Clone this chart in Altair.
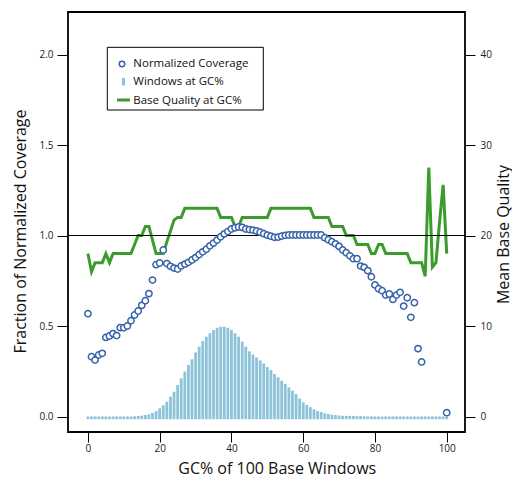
import altair as alt
import pandas as pd

# ---------------- data ----------------
gc = list(range(101))

coverage = [0.568, 0.33, 0.312, 0.34, 0.349, 0.437, 0.445, 0.458, 0.447, 0.491,
            0.49, 0.5, 0.529, 0.561, 0.583, 0.614, 0.64, 0.679, 0.754, 0.839,
            0.848, 0.92, 0.845, 0.83, 0.82, 0.815, 0.832, 0.842, 0.852, 0.865,
            0.878, 0.895, 0.91, 0.924, 0.943, 0.958, 0.975, 0.993, 1.009, 1.022,
            1.036, 1.043, 1.047, 1.045, 1.036, 1.033, 1.03, 1.025, 1.018, 1.01,
            1.002, 0.996, 0.99, 0.991, 0.997, 1.001, 1.003, 1.003, 1.003, 1.003,
            1.003, 1.003, 1.003, 1.003, 1.003, 1.003, 0.988, 0.977, 0.966, 0.954,
            0.94, 0.92, 0.905, 0.888, 0.872, 0.872, 0.831, 0.824, 0.806, 0.772,
            0.727, 0.706, 0.695, 0.671, 0.677, 0.647, 0.671, 0.686, 0.61, 0.656,
            0.548, 0.629, 0.375, 0.301, None, None, None, None, None, None,
            0.021]

windows = [0, 0, 0, 0, 0, 0, 0, 0, 0, 0,
           0, 0, 0, 0.001, 0.003, 0.005, 0.008, 0.012, 0.02, 0.03,
           0.045, 0.062, 0.082, 0.11, 0.137, 0.174, 0.211, 0.248, 0.285, 0.316,
           0.353, 0.386, 0.417, 0.441, 0.46, 0.478, 0.49, 0.496, 0.496, 0.49,
           0.478, 0.46, 0.441, 0.414, 0.386, 0.36, 0.342, 0.326, 0.31, 0.293,
           0.273, 0.257, 0.235, 0.217, 0.198, 0.18, 0.161, 0.143, 0.124, 0.1,
           0.078, 0.064, 0.051, 0.04, 0.03, 0.025, 0.018, 0.014, 0.01, 0.008,
           0.005, 0.004, 0.004, 0.003, 0.003, 0.002, 0.002, 0.001, 0.001, 0.001,
           0, 0, 0, 0, 0, 0, 0, 0, 0, 0,
           0, 0, 0, 0, 0, 0, 0, 0, 0, 0,
           0]

quality = [18, 16, 17, 17, 17, 18, 17, 18, 18, 18,
           18, 18, 18, 19, 20, 20, 21, 21, 19.5, 18,
           18, 18, 19.3, 20.5, 21.7, 22, 22, 23, 23, 23,
           23, 23, 23, 23, 23, 23, 23, 22, 22, 22,
           22, 21, 21, 22, 22, 22, 22, 22, 22, 22,
           22, 23, 23, 23, 23, 23, 23, 23, 23, 23,
           23, 23, 23, 22, 22, 22, 22, 22, 21, 21,
           21, 21, 20, 20, 20, 19, 19, 19, 19, 18,
           18, 19, 19, 18, 18, 18, 18, 18, 18, 18,
           17, 17, 17, 17, 15.5, 27.5, 16.5, 17, 21.5, 25.6,
           18]

x_ticks = [0, 20, 40, 60, 80, 100]
left_ticks = [0.0, 0.5, 1.0, 1.5, 2.0]
right_ticks = [0, 10, 20, 30, 40]
legend_labels = ["Normalized Coverage", "Windows at GC%", "Base Quality at GC%"]

# ---------------- styling ----------------
FONT = "Open Sans"
BLUE = "#3562AA"
BAR = "#8DC3D9"
GREEN = "#3C9B2D"

df = pd.DataFrame({"gc": gc, "coverage": coverage, "windows": windows, "quality": quality})
df_cov = df.dropna(subset=["coverage"])

xscale = alt.Scale(domain=[-4.16, 103.7], nice=False, zero=False)
lscale = alt.Scale(domain=[-0.0856, 2.235], nice=False, zero=False)
rscale = alt.Scale(domain=[-1.712, 44.7], nice=False, zero=False)

xaxis = alt.Axis(values=x_ticks, title="GC% of 100 Base Windows", tickSize=10,
                 labelPadding=1, titleX=208.7, titleY=41, titleBaseline="alphabetic",
                 titleAlign="center", labelFlush=False)
laxis = alt.Axis(values=left_ticks, format=".1f", orient="left",
                 title="Fraction of Normalized Coverage", tickSize=11, labelPadding=4,
                 titleAngle=270, titleX=-48, titleY=219, titleAlign="center",
                 titleBaseline="middle")
raxis = alt.Axis(values=right_ticks, format="d", orient="right",
                 title="Mean Base Quality", tickSize=10, labelPadding=5,
                 titleAngle=270, titleX=38, titleY=222, titleAlign="center",
                 titleBaseline="middle")

X = alt.X("gc:Q", scale=xscale, axis=xaxis)

base = alt.Chart(df)

line = base.mark_line(color=GREEN, strokeWidth=3, strokeJoin="miter").encode(
    x=X,
    y=alt.Y("quality:Q", scale=rscale, axis=raxis),
)

bars = base.mark_bar(size=2.8, color=BAR).encode(
    x=X,
    y=alt.Y("windows:Q", scale=lscale, axis=laxis),
    y2=alt.datum(-0.015),
)

rule = alt.Chart(pd.DataFrame({"v": [1.0]})).mark_rule(color="black", strokeWidth=1).encode(
    y=alt.Y("v:Q", scale=lscale, axis=laxis)
)

points = alt.Chart(df_cov).mark_point(shape="circle", size=40, fill="white", fillOpacity=1,
                                       stroke=BLUE, strokeWidth=1.5, opacity=1).encode(
    x=X,
    y=alt.Y("coverage:Q", scale=lscale, axis=laxis),
)

left = alt.layer(bars, rule, points)

one = pd.DataFrame({"k": [0]})
lg_box = alt.Chart(one).mark_rect(fill="white", stroke="black", strokeWidth=1).encode(
    x=alt.value(39.3), x2=alt.value(195.3), y=alt.value(35.3), y2=alt.value(98)
)
lg_pt = alt.Chart(one).mark_point(shape="circle", size=30, fill="white", fillOpacity=1,
                                  stroke=BLUE, strokeWidth=1.5, opacity=1).encode(
    x=alt.value(54), y=alt.value(52)
)
lg_bar = alt.Chart(one).mark_rect(color=BAR).encode(
    x=alt.value(54), x2=alt.value(57), y=alt.value(66), y2=alt.value(73.5)
)
lg_line = alt.Chart(one).mark_rule(color=GREEN, strokeWidth=3).encode(
    x=alt.value(49), x2=alt.value(62), y=alt.value(88)
)
lg_texts = [
    alt.Chart(one).mark_text(align="left", baseline="middle", font=FONT, fontSize=11.5,
                             color="#111").encode(
        x=alt.value(65.3), y=alt.value(yv), text=alt.value(lab))
    for lab, yv in zip(legend_labels, [52, 70, 88.5])
]
legend = alt.layer(lg_box, lg_pt, lg_bar, lg_line, *lg_texts)

chart = alt.layer(line, left, legend).resolve_scale(y="independent").properties(
    width=397, height=420,
    padding={"left": 60, "top": 4, "right": 47, "bottom": 45},
    autosize="none",
).configure_view(
    stroke="black", strokeWidth=1.8
).configure_axis(
    labelFont=FONT, titleFont=FONT, labelFontSize=10, titleFontSize=16,
    titleFontWeight="normal", labelColor="#222", titleColor="#111",
    tickColor="black", tickWidth=1, domain=False, grid=False,
)

chart.save("out.html", embed_options={"renderer": "svg", "actions": False})
